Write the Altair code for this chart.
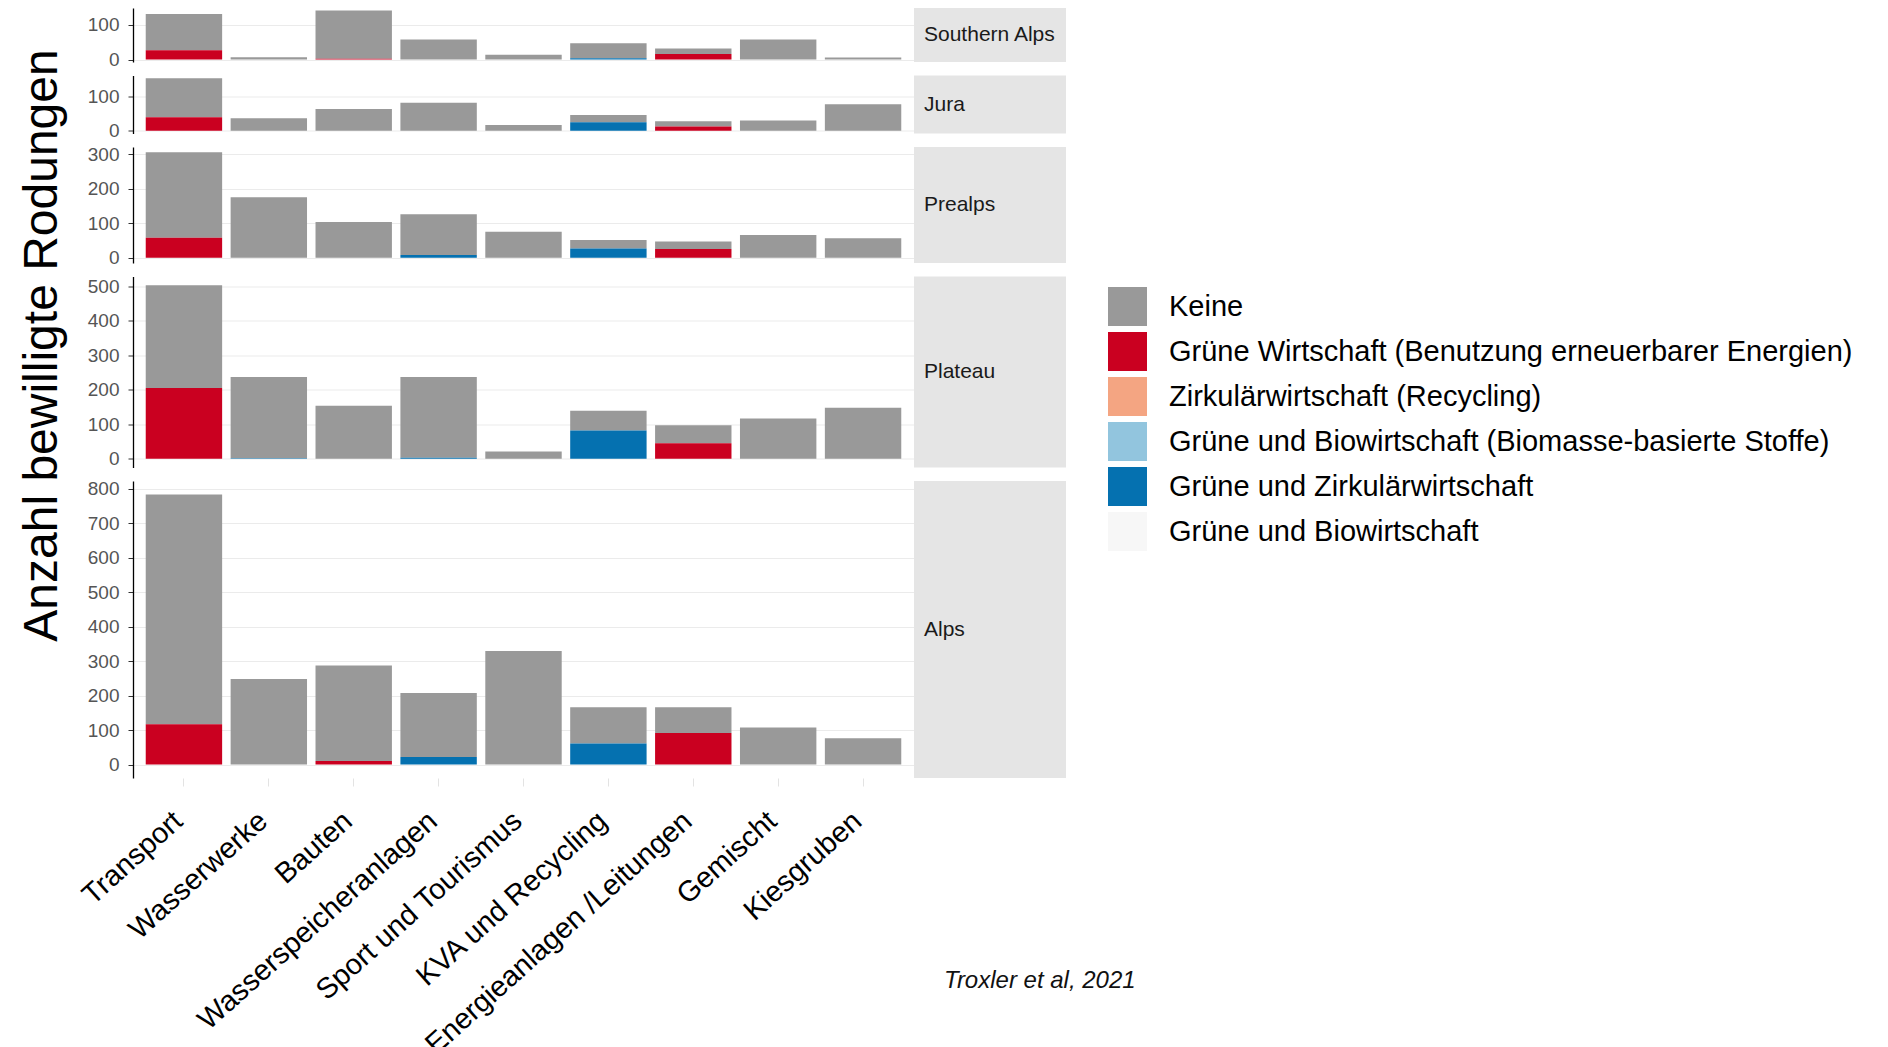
import altair as alt
import pandas as pd

regions = ["Southern Alps", "Jura", "Prealps", "Plateau", "Alps"]
cats = ["Transport", "Wasserwerke", "Bauten", "Wasserspeicheranlagen",
        "Sport und Tourismus", "KVA und Recycling", "Energieanlagen /Leitungen",
        "Gemischt", "Kiesgruben"]
types = ["Keine",
         "Grüne Wirtschaft (Benutzung erneuerbarer Energien)",
         "Zirkulärwirtschaft (Recycling)",
         "Grüne und Biowirtschaft (Biomasse-basierte Stoffe)",
         "Grüne und Zirkulärwirtschaft",
         "Grüne und Biowirtschaft"]
colors = ["#999999", "#CA0020", "#F4A582", "#92C5DE", "#0571B0", "#F7F7F7"]

# values per region, one per category (segment sizes)
keine = {
    "Southern Alps": [105, 7, 140, 58, 14, 43, 16, 58, 6],
    "Jura":          [114, 37, 64, 82, 17, 21, 15, 30, 78],
    "Prealps":       [247, 175, 103, 118, 75, 24, 22, 66, 56],
    "Plateau":       [298, 235, 154, 234, 21, 57, 52, 117, 148],
    "Alps":          [666, 248, 277, 185, 329, 105, 75, 107, 76],
}
gruen = {
    "Southern Alps": [27, 0, 2, 0, 0, 0, 16, 0, 0],
    "Jura":          [40, 0, 0, 0, 0, 0, 13, 0, 0],
    "Prealps":       [58, 0, 0, 0, 0, 0, 25, 0, 0],
    "Plateau":       [205, 0, 0, 0, 0, 0, 45, 0, 0],
    "Alps":          [117, 0, 10, 0, 0, 0, 91, 0, 0],
}
gruen_zirk = {
    "Southern Alps": [0, 0, 0, 0, 0, 4, 0, 0, 0],
    "Jura":          [0, 0, 0, 0, 0, 25, 0, 0, 0],
    "Prealps":       [0, 0, 0, 8, 0, 27, 0, 0, 0],
    "Plateau":       [0, 2, 0, 3, 0, 82, 0, 0, 0],
    "Alps":          [0, 0, 0, 22, 0, 61, 0, 0, 0],
}
series = {types[0]: keine, types[1]: gruen, types[4]: gruen_zirk}

recs = []
for t, d in series.items():
    ti = types.index(t)
    for r in regions:
        for c, v in zip(cats, d[r]):
            if v > 0:
                recs.append({"region": r, "cat": c, "type": t, "val": v,
                             "ord": len(types) - 1 - ti})
data = pd.DataFrame(recs)

FONT = "Liberation Sans"
PX = 0.345
W = 781
STRIP_W = 152
ROW_SP = 13.5
TOP0 = 8
LEFT0 = 130

legend = alt.Legend(title=None, orient="none", legendX=1105 - LEFT0,
                    legendY=287 - TOP0,
                    symbolType="square", symbolSize=1521, symbolStrokeWidth=0,
                    labelFontSize=29, labelLimit=1000, rowPadding=6,
                    labelOffset=22, labelColor="#000000", padding=0,
                    labelFont=FONT)

bar_charts = []
strip_charts = []
top = TOP0
for i, r in enumerate(regions):
    df = data[data.region == r]
    M = float(df.groupby("cat")["val"].sum().max())
    h = round(1.1 * M * PX)
    last = i == len(regions) - 1
    ticks = list(range(0, int(1.05 * M) + 1, 100))
    yaxis_kw = dict(values=ticks, labelFontSize=19, labelColor="#555555",
                    labelFont=FONT, tickColor="#333333", tickSize=5,
                    labelPadding=9, domainColor="#000000", domainWidth=1.3,
                    gridColor="#EBEBEB", gridWidth=1)
    ytitle = None
    if r == "Plateau":
        ytitle = "Anzahl bewilligte Rodungen"
        yaxis_kw.update(titleFontSize=48, titleFontWeight="normal",
                        titleColor="#000000", titleFont=FONT, titleX=-91,
                        titleY=345 - top, titleAngle=270, titleAlign="center",
                        titleBaseline="middle")
    if last:
        xaxis = alt.Axis(labelAngle=-42, labelAlign="right", labelBaseline="top",
                         labelFontSize=29, labelColor="#000000", labelFont=FONT,
                         tickColor="#E3E3E3", tickSize=8, labelPadding=20,
                         labelOffset=-15,
                         domain=False, grid=False, labelLimit=1000)
    else:
        xaxis = None
    bars = alt.Chart(df).mark_bar().encode(
        x=alt.X("cat:N", sort=cats, title=None, axis=xaxis,
                scale=alt.Scale(domain=cats, paddingInner=0.1, paddingOuter=0.15)),
        y=alt.Y("val:Q", stack="zero", title=ytitle, axis=alt.Axis(**yaxis_kw),
                scale=alt.Scale(domain=[-0.05 * M, 1.05 * M], nice=False, zero=False)),
        color=alt.Color("type:N", scale=alt.Scale(domain=types, range=colors),
                        legend=legend),
        order=alt.Order("ord:Q", sort="ascending"),
    ).properties(width=W, height=h)
    bar_charts.append(bars)

    sd = pd.DataFrame({"region": [r]})
    sbase = alt.Chart(sd)
    rect = sbase.mark_rect(color="#E5E5E5").encode(
        x=alt.value(0), x2=alt.value(STRIP_W), y=alt.value(0), y2=alt.value(h))
    txt = sbase.mark_text(align="left", baseline="middle", fontSize=21,
                          color="#1A1A1A", font=FONT).encode(
        x=alt.value(10), y=alt.value(h / 2), text="region:N")
    layers = [rect, txt]
    if last:
        cite = sbase.mark_text(text="Troxler et al, 2021", align="left",
                               baseline="alphabetic", fontSize=24,
                               fontStyle="italic", color="#111111", font=FONT).encode(
            x=alt.value(30), y=alt.value(507))
        layers.append(cite)
    strip_charts.append(alt.layer(*layers).properties(width=STRIP_W, height=h))
    top += h + ROW_SP

left_col = alt.vconcat(*bar_charts, spacing=ROW_SP, bounds="flush").resolve_scale(
    y="independent", x="independent")
right_col = alt.vconcat(*strip_charts, spacing=ROW_SP, bounds="flush")

chart = alt.hconcat(left_col, right_col, spacing=0).resolve_scale(
    color="shared"
).properties(padding={"left": 9, "top": 0, "right": 5, "bottom": 0}
).configure(font=FONT).configure_view(strokeWidth=0, stroke="transparent")

chart.save("out.html", embed_options={"renderer": "svg", "actions": False})
